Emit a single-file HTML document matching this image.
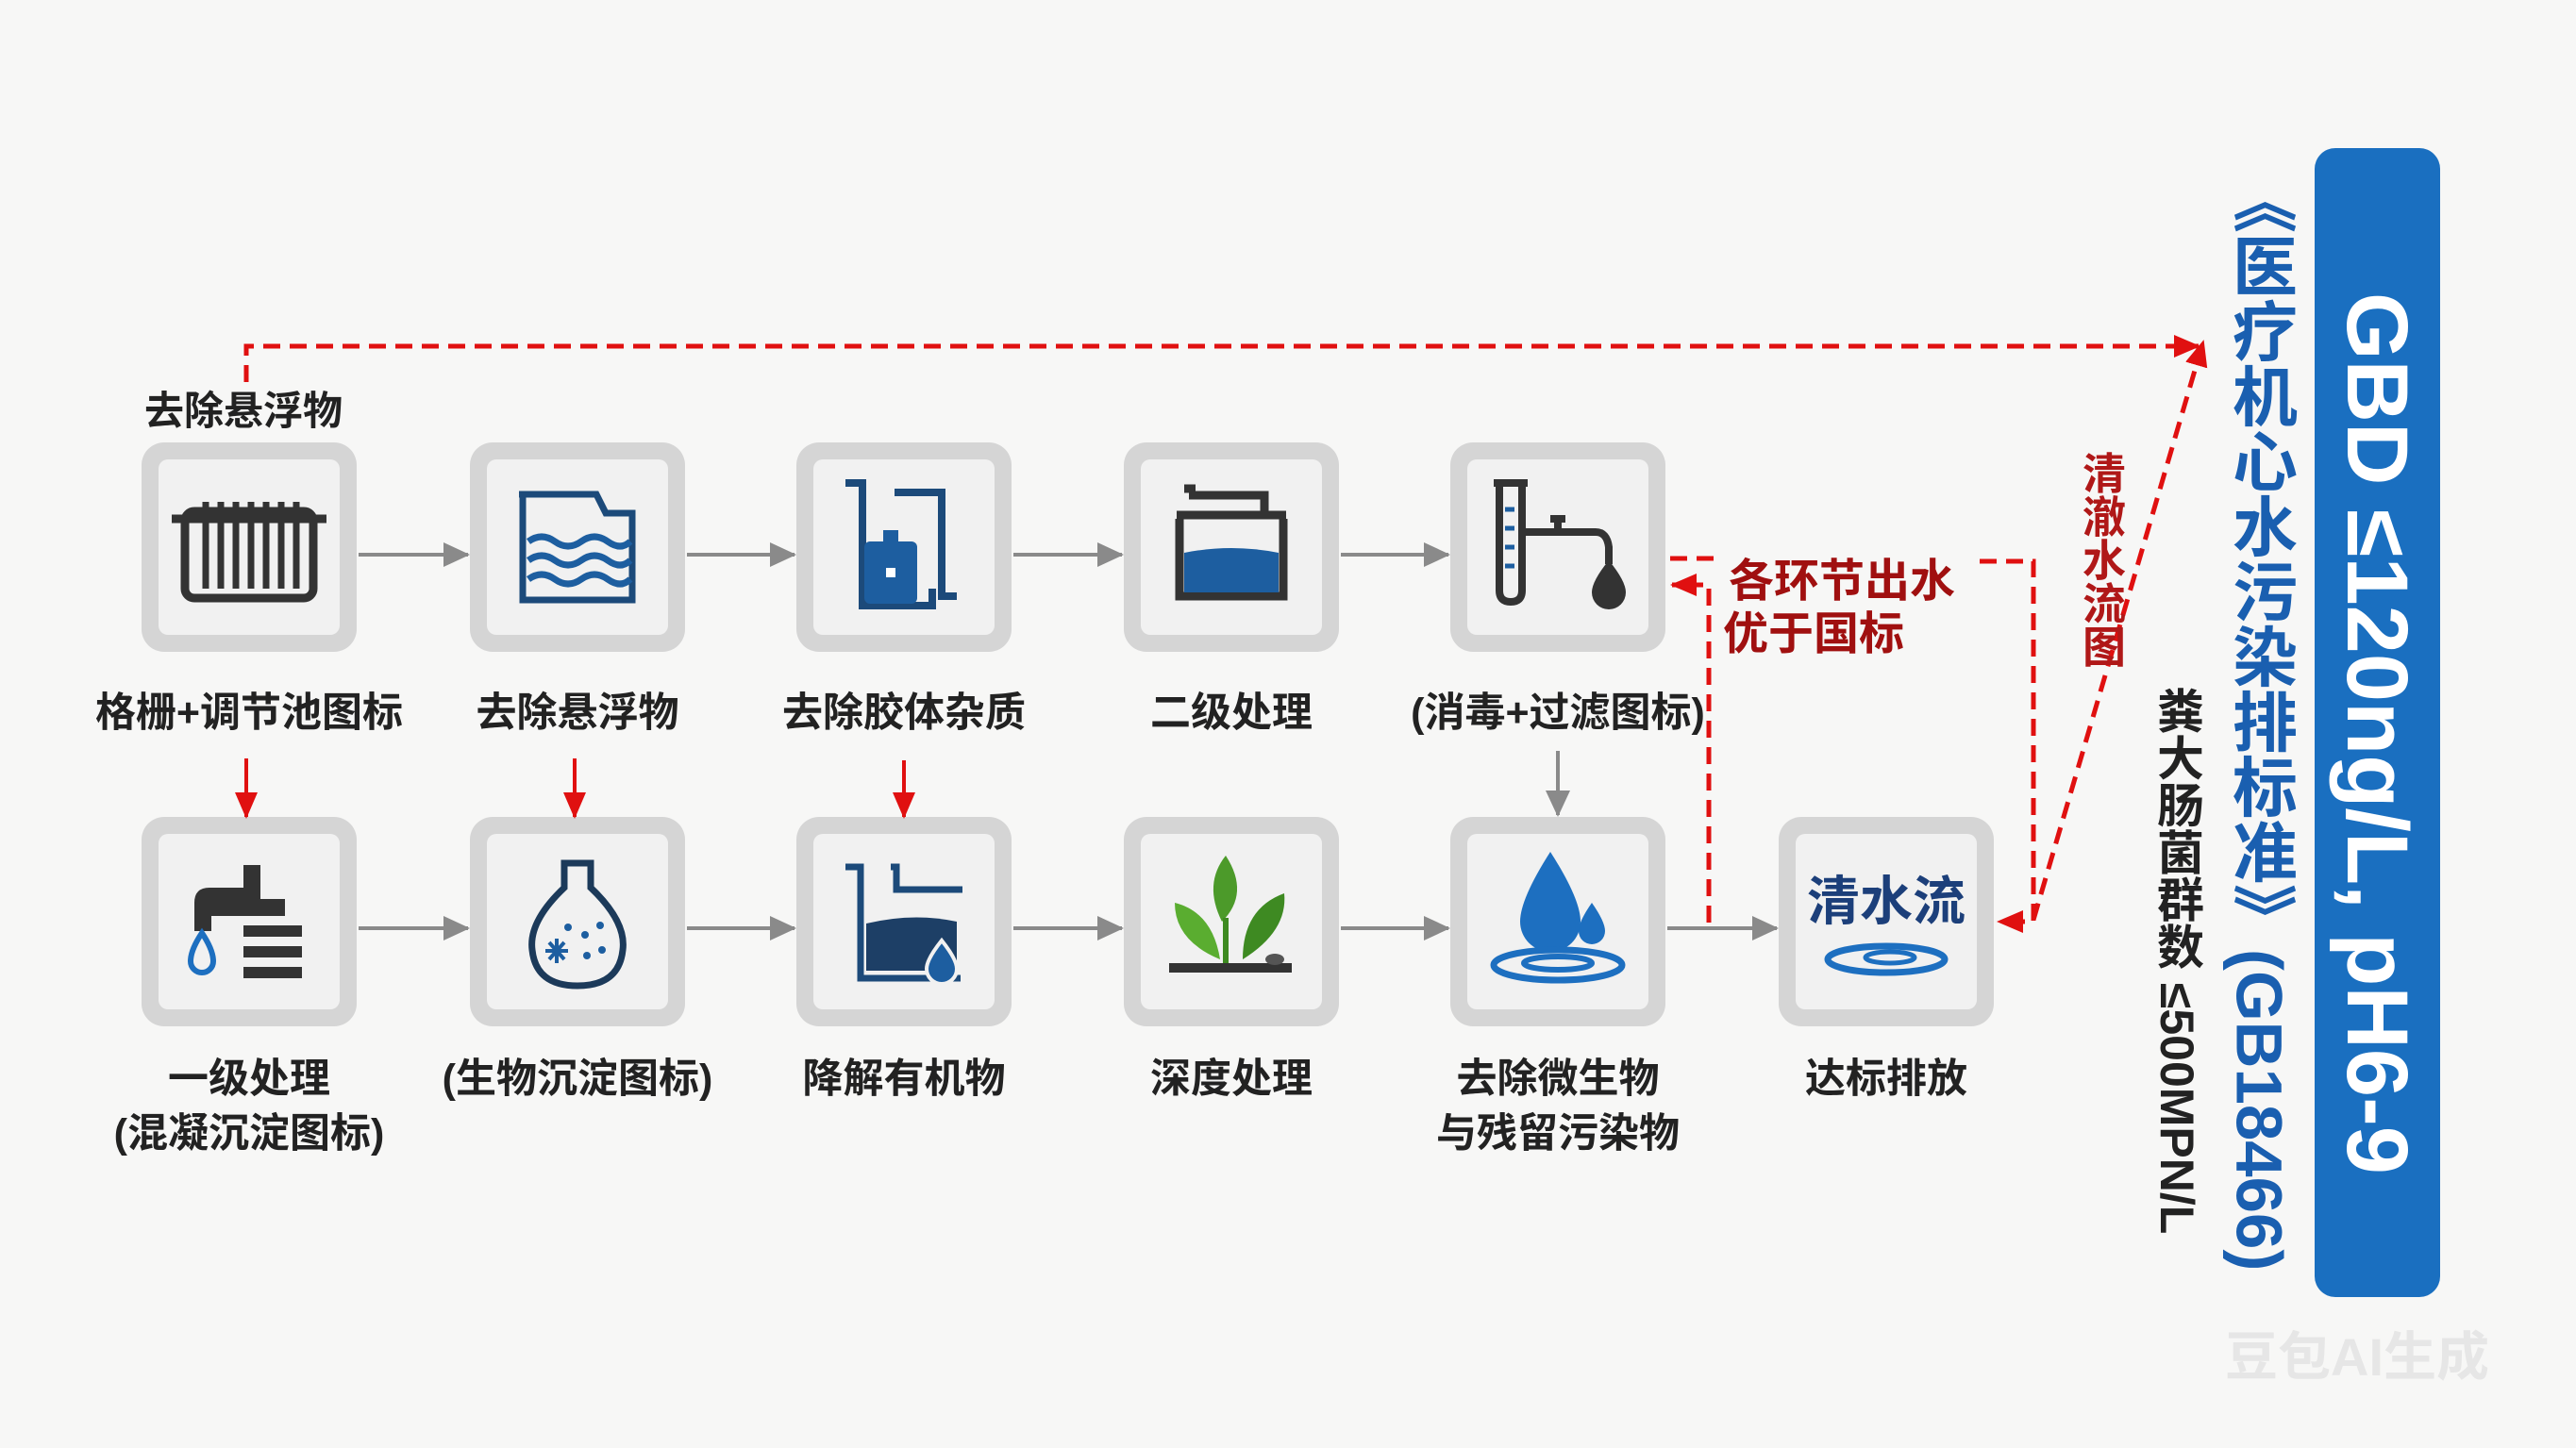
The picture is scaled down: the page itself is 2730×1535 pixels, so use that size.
<!DOCTYPE html>
<html><head><meta charset="utf-8"><style>
html,body{margin:0;padding:0;background:#f7f7f6;}
svg{display:block;}
text{font-family:"Liberation Sans","Noto Sans CJK SC",sans-serif;}
</style></head><body>
<svg width="2730" height="1535" viewBox="0 0 2730 1535" xmlns="http://www.w3.org/2000/svg">
<defs>
<marker id="gah" markerWidth="30" markerHeight="30" refX="26" refY="15" orient="auto" markerUnits="userSpaceOnUse"><path d="M0,2 L28,15 L0,28 z" fill="#8a8a8a"/></marker>
<marker id="rah" markerWidth="30" markerHeight="30" refX="26" refY="15" orient="auto" markerUnits="userSpaceOnUse"><path d="M0,3 L28,15 L0,27 z" fill="#e01010"/></marker>
<g id="box"><rect x="-114" y="-111" width="228" height="222" rx="24" fill="#d5d5d5"/><rect x="-96" y="-93" width="192" height="186" rx="10" fill="#f1f1f1"/></g>
</defs>
<rect width="2730" height="1535" fill="#f7f7f6"/>

<g transform="translate(264,580)"><use href="#box"/>
 <g fill="none" stroke="#333" stroke-width="9">
 <rect x="-68" y="-38" width="136" height="92" rx="10"/><line x1="-82" y1="-30" x2="82" y2="-30"/>
 <path d="M-46,-48V44M-30,-48V44M-14,-48V44M2,-48V44M18,-48V44M34,-48V44M50,-48V44" stroke-width="7"/></g></g>
<g transform="translate(612,580)"><use href="#box"/>
 <g fill="none" stroke="#1c4a7a" stroke-width="7"><path d="M-62,-56H20L30,-36H58V56H-58V-56"/>
 <path d="M-52,-6q14,-10 28,0t28,0t28,0t24,0M-52,14q14,-10 28,0t28,0t28,0t24,0M-52,34q14,-10 28,0t28,0t28,0t24,0" stroke="#1d5ea0"/></g></g>
<g transform="translate(958,580)"><use href="#box"/>
 <g fill="none" stroke="#1c4a7a" stroke-width="8"><path d="M-62,-68H-44V62H30V44M-10,-58H40V52H56"/></g>
 <rect x="-42" y="-6" width="56" height="66" rx="6" fill="#1d5ea0"/><rect x="-22" y="-18" width="16" height="14" fill="#1d5ea0"/><rect x="-19" y="22" width="10" height="10" fill="#fff"/></g>
<g transform="translate(1305,580)"><use href="#box"/>
 <g fill="none" stroke="#333" stroke-width="9"><path d="M-55,-30V52H55V-30M-58,-34H58M-45,-55H35V-34M-50,-62H-38"/></g>
 <path d="M-50,6Q0,-4 50,6V48H-50z" fill="#1d5ea0"/></g>
<g transform="translate(1651,580)"><use href="#box"/>
 <g fill="none" stroke="#333" stroke-width="8"><path d="M-62,-68V46Q-62,58 -50,58Q-38,58 -38,46V-68M-68,-68H-32M-38,-16H40Q52,-16 54,0V18M0,-30V-16M-8,-30H8"/></g>
 <path d="M-56,-40h10M-56,-20h10M-56,0h10M-56,20h10" stroke="#1d5ea0" stroke-width="5"/>
 <path d="M54,14Q72,36 72,48A18,18 0 0 1 36,48Q36,36 54,14z" fill="#333"/></g>

<g transform="translate(264,977)"><use href="#box"/>
 <g fill="#333"><path d="M-58,-20Q-58,-36 -42,-36H-6V-60H12V-24H38V-6H-40V10H-58z"/><rect x="-6" y="4" width="62" height="12"/><rect x="-6" y="26" width="62" height="12"/><rect x="-6" y="48" width="62" height="12"/></g>
 <path d="M-50,12Q-38,30 -38,42A12,12 0 0 1 -62,42Q-62,30 -50,12z" fill="none" stroke="#1d6fc0" stroke-width="6"/></g>
<g transform="translate(612,977)"><use href="#box"/>
 <path d="M-14,-62H14V-36Q52,0 48,30Q44,68 0,68Q-44,68 -48,30Q-52,0 -14,-36z" fill="none" stroke="#1c3a5a" stroke-width="7"/>
 <g fill="#1d5ea0"><circle cx="-10" cy="6" r="4"/><circle cx="8" cy="14" r="4"/><circle cx="24" cy="4" r="4"/><circle cx="26" cy="30" r="4"/><circle cx="10" cy="36" r="4"/><path d="M-22,18v26M-34,31h24M-30,22l16,18M-30,40l16,-18" stroke="#1d5ea0" stroke-width="4"/></g></g>
<g transform="translate(958,977)"><use href="#box"/>
 <path d="M-62,-58H-46V60H60M-14,-58H-8V-34H62" fill="none" stroke="#1c4a7a" stroke-width="7"/>
 <path d="M-40,2Q10,-10 56,0V52H-40z" fill="#1d3f66"/>
 <path d="M40,20Q56,40 56,50A16,16 0 0 1 24,50Q24,40 40,20z" fill="#1d5ea0" stroke="#f1f1f1" stroke-width="4"/></g>
<g transform="translate(1305,977)"><use href="#box"/>
 <path d="M-6,-70Q-30,-40 -10,0Q20,-30 -6,-70z" fill="#4c9a2a"/>
 <path d="M-12,40Q-60,20 -60,-20Q-20,-10 -12,40z" fill="#5aad30"/>
 <path d="M12,40Q60,10 56,-30Q12,-14 12,40z" fill="#3e8a22"/>
 <path d="M-6,-4V44" stroke="#3e8a22" stroke-width="6"/>
 <rect x="-66" y="44" width="130" height="10" fill="#333"/><ellipse cx="46" cy="40" rx="10" ry="6" fill="#555"/></g>
<g transform="translate(1651,977)"><use href="#box"/>
 <path d="M-8,-74Q-40,-24 -40,0A32,32 0 0 0 24,0Q24,-24 -8,-74z" fill="#1d6fc0"/>
 <path d="M36,-20Q50,0 50,10A14,14 0 0 1 22,10Q22,0 36,-20z" fill="#1d6fc0"/>
 <ellipse cx="0" cy="46" rx="68" ry="16" fill="none" stroke="#1d6fc0" stroke-width="7"/>
 <ellipse cx="0" cy="44" rx="36" ry="7" fill="none" stroke="#1d6fc0" stroke-width="6"/></g>
<g transform="translate(1999,977)"><use href="#box"/>
 <text x="0" y="-2" text-anchor="middle" font-size="56" font-weight="bold" fill="#1c3f7a">清水流</text>
 <ellipse cx="0" cy="40" rx="62" ry="14" fill="none" stroke="#1d6fc0" stroke-width="7"/>
 <ellipse cx="4" cy="38" rx="26" ry="6" fill="none" stroke="#1d6fc0" stroke-width="5"/></g>

<g stroke="#8a8a8a" stroke-width="4" marker-end="url(#gah)">
<line x1="380" y1="588" x2="496" y2="588"/><line x1="728" y1="588" x2="842" y2="588"/><line x1="1074" y1="588" x2="1189" y2="588"/><line x1="1421" y1="588" x2="1535" y2="588"/>
<line x1="380" y1="984" x2="496" y2="984"/><line x1="728" y1="984" x2="842" y2="984"/><line x1="1074" y1="984" x2="1189" y2="984"/><line x1="1421" y1="984" x2="1535" y2="984"/><line x1="1767" y1="984" x2="1883" y2="984"/>
<line x1="1651" y1="796" x2="1651" y2="864"/>
</g>
<g stroke="#e01010" stroke-width="4" marker-end="url(#rah)">
<line x1="261" y1="804" x2="261" y2="866"/><line x1="609" y1="804" x2="609" y2="866"/><line x1="958" y1="806" x2="958" y2="866"/>
</g>
<g fill="none" stroke="#e01010" stroke-width="5" stroke-dasharray="18 10">
<path d="M261,405V367H2330" marker-end="url(#rah)"/>
<path d="M1811,978V620H1772" marker-end="url(#rah)"/>
<path d="M1770,592H1822"/>
<path d="M2098,595H2155V977H2118" marker-end="url(#rah)"/>
<path d="M2155,975L2335,362" marker-end="url(#rah)"/>
</g>

<g font-size="43" fill="#222" text-anchor="middle" font-weight="bold">
<text x="258" y="450" font-size="42">去除悬浮物</text>
<text x="264" y="770">格栅+调节池图标</text>
<text x="612" y="770">去除悬浮物</text>
<text x="958" y="770">去除胶体杂质</text>
<text x="1305" y="770">二级处理</text>
<text x="1651" y="770">(消毒+过滤图标)</text>
<text x="264" y="1158">一级处理</text>
<text x="264" y="1216">(混凝沉淀图标)</text>
<text x="612" y="1158">(生物沉淀图标)</text>
<text x="958" y="1158">降解有机物</text>
<text x="1305" y="1158">深度处理</text>
<text x="1651" y="1158">去除微生物</text>
<text x="1651" y="1216">与残留污染物</text>
<text x="1999" y="1158">达标排放</text>
</g>
<g fill="#a01010" font-size="48" font-weight="bold">
<text x="1832" y="632">各环节出水</text>
<text x="1826" y="688">优于国标</text>
</g>
<text x="2227" y="478" font-size="46" fill="#b01818" style="writing-mode:vertical-rl" font-weight="bold">清澈水流图</text>

<rect x="2453" y="157" width="133" height="1218" rx="22" fill="#1a6fc0"/>
<text x="2519" y="310" font-size="92" font-weight="bold" fill="#fff" transform="rotate(90 2519 310)" dominant-baseline="central">GBD ≤120ng/L, pH6-9</text>
<text x="2394" y="178" font-size="69" font-weight="bold" fill="#1a5fb0" style="writing-mode:vertical-rl">《医疗机心水污染排标准》(GB18466)</text>
<text x="2307" y="728" font-size="50" font-weight="bold" fill="#222" style="writing-mode:vertical-rl">粪大肠菌群数 ≤500MPN/L</text>
<text x="2358" y="1458" font-size="56" font-weight="bold" fill="#e6e6e6">豆包AI生成</text>
</svg>
</body></html>
